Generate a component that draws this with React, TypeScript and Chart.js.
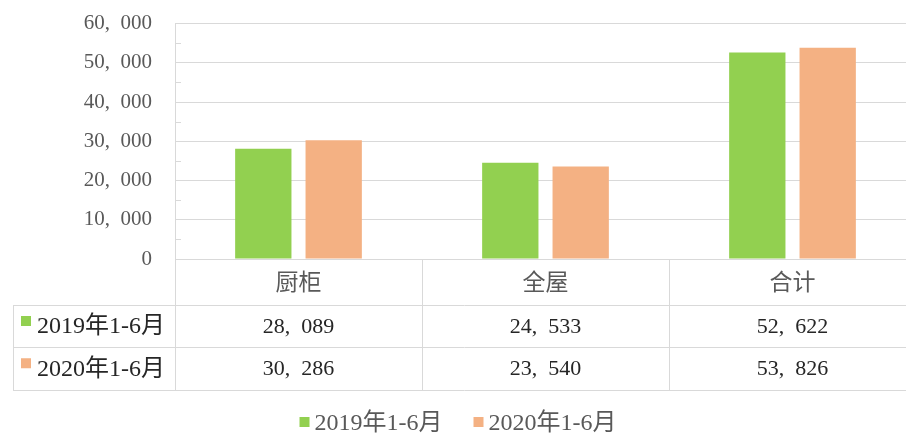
import React, { useEffect, useRef } from "react";
import { Chart, registerables } from "chart.js";

Chart.register(...registerables);

const categories = ["厨柜", "全屋", "合计"];
const seriesLabels = ["2019年1-6月", "2020年1-6月"];
const values2019 = [28089, 24533, 52622];
const values2020 = [30286, 23540, 53826];
const seriesColors = ["#92D050", "#F4B183"];
const yMin = 0;
const yMax = 60000;
const yStep = 10000;
const yMinorStep = 5000;

const FONT = "'Liberation Serif', 'Noto Sans CJK SC', serif";
const GRID = "#D9D9D9";
const AXIS_TEXT = "#595959";
const TABLE_TEXT = "#262626";

const W = 920;
const H = 435;
const PLOT_LEFT = 175;
const PLOT_BOTTOM = 259;
const ROW1 = 305;
const ROW2 = 347;
const ROW3 = 389.5;
const TABLE_LEFT = 13;

const fmt = (v: number) => v.toLocaleString("en-US").replace(/,/g, ",\u2002");

const tablePlugin = {
  id: "tablePlugin",
  afterDraw(chart: any) {
    const ctx = chart.ctx as CanvasRenderingContext2D;
    const xs = chart.scales.x;
    const ys = chart.scales.y;
    const area = chart.chartArea;
    const n = categories.length;
    const catW = (area.right - area.left) / n;
    ctx.save();
    ctx.strokeStyle = GRID;
    ctx.lineWidth = 1;
    const hline = (x1: number, x2: number, y: number) => {
      ctx.beginPath();
      ctx.moveTo(x1, Math.round(y) + 0.5);
      ctx.lineTo(x2, Math.round(y) + 0.5);
      ctx.stroke();
    };
    const vline = (x: number, y1: number, y2: number) => {
      ctx.beginPath();
      ctx.moveTo(Math.round(x) + 0.5, y1);
      ctx.lineTo(Math.round(x) + 0.5, y2);
      ctx.stroke();
    };
    // minor ticks
    for (let v = yMin + yMinorStep; v < yMax; v += yStep) {
      const y = ys.getPixelForValue(v);
      ctx.beginPath();
      ctx.moveTo(area.left, Math.round(y) + 0.5);
      ctx.lineTo(area.left + 6, Math.round(y) + 0.5);
      ctx.stroke();
    }
    // table lines
    hline(area.left, area.right, area.bottom);
    hline(TABLE_LEFT, area.right, ROW1);
    hline(TABLE_LEFT, area.right, ROW2);
    hline(TABLE_LEFT, area.right, ROW3);
    vline(TABLE_LEFT, ROW1, ROW3 + 0.5);
    vline(area.left, area.top, ROW3 + 0.5);
    for (let i = 1; i <= n; i++) {
      vline(area.left + catW * i, area.bottom, ROW3 + 0.5);
    }
    // category labels and values
    ctx.textAlign = "center";
    ctx.textBaseline = "middle";
    const series = [values2019, values2020];
    for (let i = 0; i < n; i++) {
      const cx = xs.getPixelForValue(i);
      ctx.fillStyle = AXIS_TEXT;
      ctx.font = `23px ${FONT}`;
      ctx.fillText(categories[i], cx, (area.bottom + ROW1) / 2 + 2);
      ctx.fillStyle = TABLE_TEXT;
      ctx.font = `22px ${FONT}`;
      ctx.fillText(fmt(series[0][i]), cx, (ROW1 + ROW2) / 2 + 1);
      ctx.fillText(fmt(series[1][i]), cx, (ROW2 + ROW3) / 2 + 1);
    }
    // row labels
    ctx.textAlign = "left";
    ctx.font = `24px ${FONT}`;
    const rowMid = [(ROW1 + ROW2) / 2, (ROW2 + ROW3) / 2];
    for (let s = 0; s < 2; s++) {
      ctx.fillStyle = seriesColors[s];
      ctx.fillRect(21, rowMid[s] - 10, 10, 10);
      ctx.fillStyle = TABLE_TEXT;
      ctx.fillText(seriesLabels[s], 37, rowMid[s] + 1);
    }
    // legend
    ctx.font = `24px ${FONT}`;
    const widths = seriesLabels.map((l) => ctx.measureText(l).width);
    const box = 10;
    const gapBox = 5;
    const gapItem = 31;
    const total = widths.reduce((a, b) => a + b, 0) + 2 * (box + gapBox) + gapItem;
    let x = 458 - total / 2;
    const ly = 424;
    for (let s = 0; s < 2; s++) {
      ctx.fillStyle = seriesColors[s];
      ctx.fillRect(x, ly - 7, box, box);
      x += box + gapBox;
      ctx.fillStyle = AXIS_TEXT;
      ctx.fillText(seriesLabels[s], x, ly);
      x += widths[s] + gapItem;
    }
    ctx.restore();
  },
};

export default function App() {
  const ref = useRef<HTMLCanvasElement | null>(null);
  useEffect(() => {
    if (!ref.current) return;
    const chart = new Chart(ref.current, {
      type: "bar",
      data: {
        labels: categories,
        datasets: [
          {
            label: seriesLabels[0],
            data: values2019,
            backgroundColor: seriesColors[0],
            categoryPercentage: 0.57,
            barPercentage: 0.8,
          },
          {
            label: seriesLabels[1],
            data: values2020,
            backgroundColor: seriesColors[1],
            categoryPercentage: 0.57,
            barPercentage: 0.8,
          },
        ],
      },
      options: {
        responsive: false,
        animation: false,
        devicePixelRatio: 1,
        layout: { padding: { top: 23.5, right: 4, left: 0, bottom: 0 } },
        plugins: { legend: { display: false }, tooltip: { enabled: false } },
        scales: {
          x: {
            grid: { display: false },
            border: { display: false },
            ticks: { display: false },
            afterFit: (scale: any) => {
              scale.height = H - PLOT_BOTTOM;
            },
          },
          y: {
            min: yMin,
            max: yMax,
            grid: {
              color: GRID,
              lineWidth: 1,
              drawTicks: true,
              tickLength: 23,
              tickColor: "rgba(0,0,0,0)",
            },
            border: { display: true, color: GRID },
            ticks: {
              stepSize: yStep,
              padding: 0,
              color: AXIS_TEXT,
              font: { family: FONT, size: 21 },
              callback: (v: any) => fmt(Number(v)),
            },
            afterFit: (scale: any) => {
              scale.width = PLOT_LEFT;
            },
          },
        },
      },
      plugins: [tablePlugin],
    });
    return () => chart.destroy();
  }, []);
  return (
    <div
      style={{
        position: "fixed",
        left: 0,
        top: 0,
        width: 906,
        height: 435,
        overflow: "hidden",
        background: "#fff",
      }}
    >
      <canvas ref={ref} width={W} height={H} style={{ width: W, height: H, display: "block" }} />
    </div>
  );
}
